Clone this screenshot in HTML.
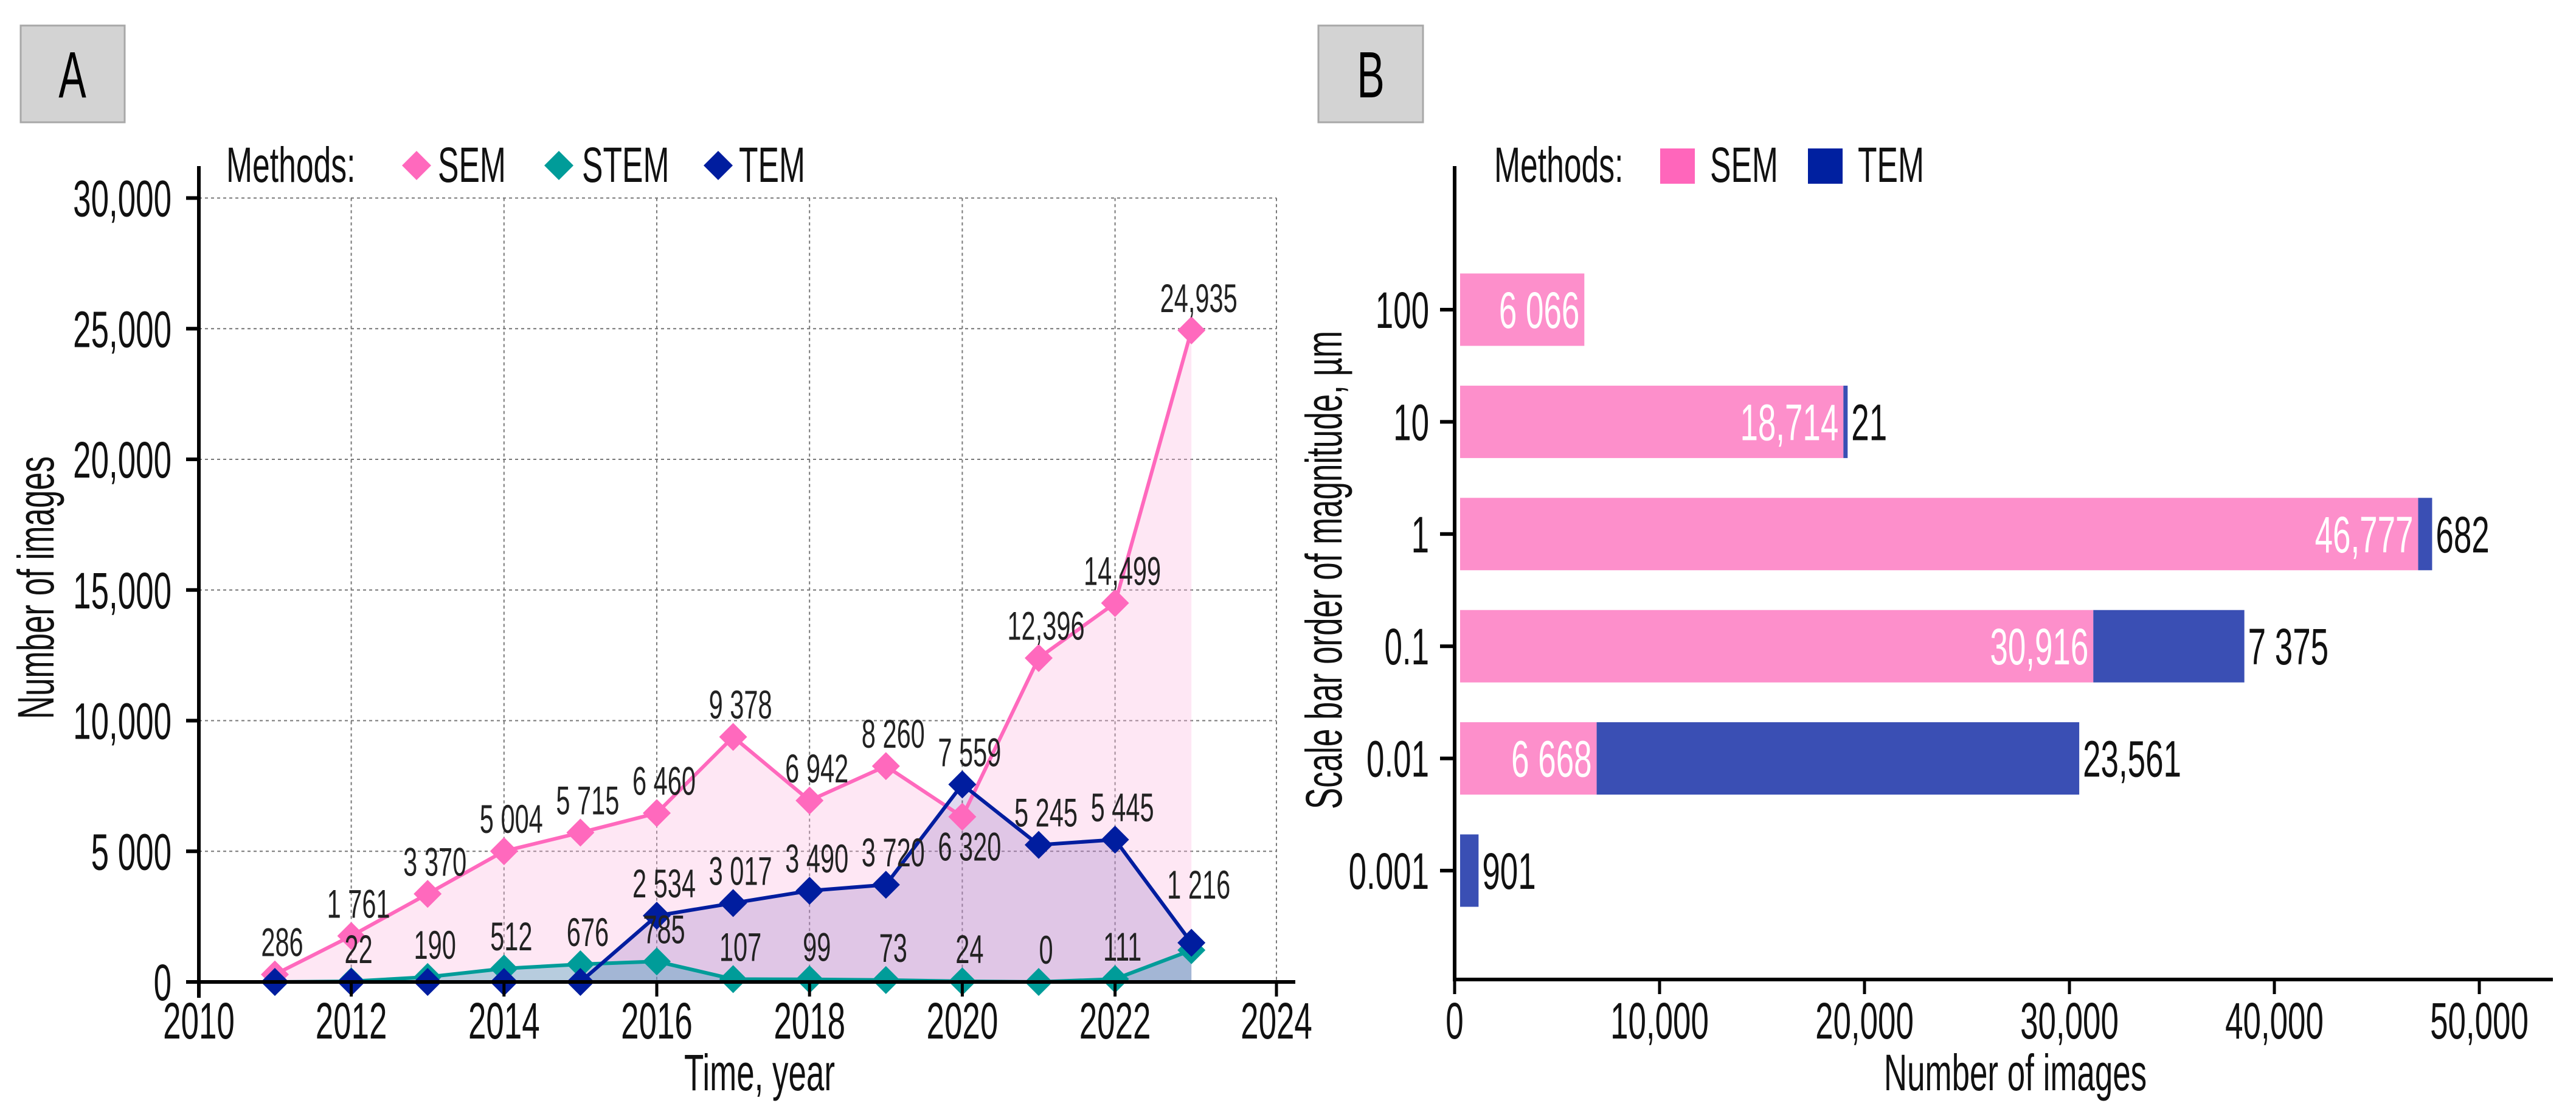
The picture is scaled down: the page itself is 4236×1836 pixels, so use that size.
<!DOCTYPE html>
<html><head><meta charset="utf-8">
<style>
html,body{margin:0;padding:0;background:#fff;}
svg{display:block;font-family:"Liberation Sans",sans-serif;}
</style></head>
<body>
<svg id="fig" width="4236" height="1836" viewBox="0 0 4236 1836" xmlns="http://www.w3.org/2000/svg">
<g id="panelA"></g>
<g id="panelB"></g>
</svg>
<script>
// ---- Panel A data ----
const years = [2011,2012,2013,2014,2015,2016,2017,2018,2019,2020,2021,2022,2023];
const semValues = [286,1761,3370,5004,5715,6460,9378,6942,8260,6320,12396,14499,24935];
const stemValues = [0,22,190,512,676,785,107,99,73,24,0,111,1216];
const temValues = [0,0,0,0,0,2534,3017,3490,3720,7559,5245,5445,1500];
const semLabels = ["286","1 761","3 370","5 004","5 715","6 460","9 378","6 942","8 260","6 320","12,396","14,499","24,935"];
const stemLabels = ["","22","190","512","676","785","107","99","73","24","0","111","1 216"];
const temLabels = ["","","","","","2 534","3 017","3 490","3 720","7 559","5 245","5 445",""];
const yTicksA = [0,5000,10000,15000,20000,25000,30000];
const yTickLabelsA = ["0","5 000","10,000","15,000","20,000","25,000","30,000"];
const xTicksA = [2010,2012,2014,2016,2018,2020,2022,2024];
// ---- Panel B data ----
const scaleCats = ["100","10","1","0.1","0.01","0.001"];
const semBar = [6066,18714,46777,30916,6668,0];
const temBar = [0,21,682,7375,23561,901];
const semBarLabels = ["6 066","18,714","46,777","30,916","6 668",""];
const temBarLabels = ["","21","682","7 375","23,561","901"];
const xTicksB = [0,10000,20000,30000,40000,50000];
const xTickLabelsB = ["0","10,000","20,000","30,000","40,000","50,000"];

const NS="http://www.w3.org/2000/svg";
const SX=0.63;
function mk(parent,tag,attrs,text){const e=document.createElementNS(NS,tag);for(const k in attrs)e.setAttribute(k,attrs[k]);if(text!==undefined)e.textContent=text;parent.appendChild(e);return e;}
function txt(parent,x,y,size,anchor,fill,str,rot){
  const tr='translate('+x+','+y+')'+(rot?' rotate('+rot+')':'')+' scale('+SX+',1)';
  return mk(parent,'text',{x:0,y:0,transform:tr,'font-size':size,'text-anchor':anchor,fill:fill},str);
}

// ===== Panel A =====
const A=document.getElementById('panelA');
const xA=y=>452+(y-2011)*125.6;
const yA=v=>1614-v*0.04295;
let e;
e=mk(A,'rect',{x:34,y:42,width:171,height:159,fill:'#d3d3d3',stroke:'#a8a8a8','stroke-width':3});

e=txt(A,119,160,108,'middle','#000','A');

for(const t of yTicksA){ if(t===0)continue;
  e=mk(A,'line',{x1:327,x2:2099,y1:yA(t),y2:yA(t),stroke:'#777','stroke-width':2,'stroke-dasharray':'5,5'});
  }
for(const t of xTicksA){ if(t===2010)continue;
  const gx = t===2024?2099:xA(t);
  e=mk(A,'line',{x1:gx,x2:gx,y1:yA(30000),y2:1614,stroke:'#777','stroke-width':2,'stroke-dasharray':'5,5'});
  }
function area(vals,fill,name){
  let d='M'+xA(years[0])+','+yA(0);
  vals.forEach((v,i)=>d+=' L'+xA(years[i])+','+yA(v));
  d+=' L'+xA(years[years.length-1])+','+yA(0)+' Z';
  const p=mk(A,'path',{d:d,fill:fill});
  
}
area(semValues,'rgba(252,180,222,0.32)','sem-area');
area(temValues,'rgba(120,80,180,0.22)','tem-area');
area(stemValues,'rgba(40,150,180,0.33)','stem-area');
function line(vals,color,name){
  const pts=vals.map((v,i)=>xA(years[i])+','+yA(v)).join(' ');
  const p=mk(A,'polyline',{points:pts,fill:'none',stroke:color,'stroke-width':6,'stroke-linejoin':'round'});
  
}
function diamonds(vals,color,name){
  vals.forEach((v,i)=>{const cx=xA(years[i]),cy=yA(v),r=23;
    const p=mk(A,'polygon',{points:`${cx},${cy-r} ${cx+r},${cy} ${cx},${cy+r} ${cx-r},${cy}`,fill:color});
    });
}
line(semValues,'#ff69bd','sem-line');
line(stemValues,'#009c99','stem-line');
line(temValues,'#001d9f','tem-line');
diamonds(semValues,'#ff69bd','sem-point');
diamonds(stemValues,'#009c99','stem-point');
diamonds(temValues,'#001d9f','tem-point');
function labels(vals,labs,name,dyFn){
  vals.forEach((v,i)=>{ if(!labs[i])return;
    const t=txt(A,xA(years[i])+12,yA(v)+dyFn(i),66,'middle','#222',labs[i]);
    });
}
labels(semValues,semLabels,'sem-value-label',i=>years[i]===2020?72:-30);
labels(stemValues,stemLabels,'stem-value-label',i=>years[i]===2023?-85:-30);
labels(temValues,temLabels,'tem-value-label',i=>-30);
e=mk(A,'line',{x1:327,x2:327,y1:273,y2:1640,stroke:'#000','stroke-width':6});

e=mk(A,'line',{x1:306,x2:2130,y1:1614,y2:1614,stroke:'#000','stroke-width':6});

yTicksA.forEach((t,i)=>{
  e=mk(A,'line',{x1:306,x2:327,y1:yA(t),y2:yA(t),stroke:'#000','stroke-width':6});
  
  e=txt(A,282,yA(t)+30,84,'end','#111',yTickLabelsA[i]);
  
});
xTicksA.forEach(t=>{
  const gx = t===2024?2099:(t===2010?327:xA(t));
  e=mk(A,'line',{x1:gx,x2:gx,y1:1614,y2:1638,stroke:'#000','stroke-width':5});
  
  e=txt(A,gx,1707,84,'middle','#111',String(t));
  
});
e=txt(A,1249,1792,84,'middle','#111','Time, year');

e=txt(A,88,966,84,'middle','#111','Number of images',-90);

e=txt(A,372,299,82,'start','#111','Methods:');

[['SEM','#ff69bd',685,720],['STEM','#009c99',919,957],['TEM','#001d9f',1181,1215]].forEach(([n,c,dx,tx])=>{
  const g=mk(A,'g',{});
  
  mk(g,'polygon',{points:`${dx},${272-24} ${dx+24},272 ${dx},${272+24} ${dx-24},272`,fill:c});
  txt(g,tx,299,82,'start','#111',n);
});

// ===== Panel B =====
const B=document.getElementById('panelB');
const x0B=2401, kB=0.03368;
const xB=v=>x0B+v*kB;
const yB=i=>509+i*184.4;
const barH=119;
e=mk(B,'rect',{x:2168,y:42,width:172,height:159,fill:'#d3d3d3',stroke:'#a8a8a8','stroke-width':3});

e=txt(B,2254,160,108,'middle','#000','B');

scaleCats.forEach((c,i)=>{
  const cy=yB(i);
  if(semBar[i]>0){
    e=mk(B,'rect',{x:x0B,y:cy-barH/2,width:semBar[i]*kB,height:barH,fill:'#fd8fcb'});
    
    e=txt(B,xB(semBar[i])-8,cy+30,84,'end','#fff',semBarLabels[i]);
    
  }
  if(temBar[i]>0){
    const w=Math.max(temBar[i]*kB,7);
    e=mk(B,'rect',{x:xB(semBar[i]),y:cy-barH/2,width:w,height:barH,fill:'#3a4fb4'});
    
    e=txt(B,xB(semBar[i])+w+6,cy+30,84,'start','#111',temBarLabels[i]);
    
  }
  e=mk(B,'line',{x1:2368,x2:2392,y1:cy,y2:cy,stroke:'#000','stroke-width':6});
  
  e=txt(B,2350,cy+30,84,'end','#111',c);
  
});
e=mk(B,'line',{x1:2392,x2:2392,y1:273,y2:1613,stroke:'#000','stroke-width':6});

e=mk(B,'line',{x1:2389,x2:4198,y1:1610,y2:1610,stroke:'#000','stroke-width':6});

xTicksB.forEach((t,i)=>{
  const tx=2392+t*0.0337;
  e=mk(B,'line',{x1:tx,x2:tx,y1:1610,y2:1634,stroke:'#000','stroke-width':5});
  
  e=txt(B,tx,1707,84,'middle','#111',xTickLabelsB[i]);
  
});
e=txt(B,3314,1792,84,'middle','#111','Number of  images');

e=txt(B,2206,937,84,'middle','#111','Scale bar order of magnitude, µm',-90);

e=txt(B,2457,299,82,'start','#111','Methods:');

[['SEM','#ff66bb',2730,2812],['TEM','#0020a0',2973,3055]].forEach(([n,c,sx,tx])=>{
  const g=mk(B,'g',{});
  
  mk(g,'rect',{x:sx,y:244,width:57,height:58,fill:c});
  txt(g,tx,299,82,'start','#111',n);
});
</script>
</body></html>
